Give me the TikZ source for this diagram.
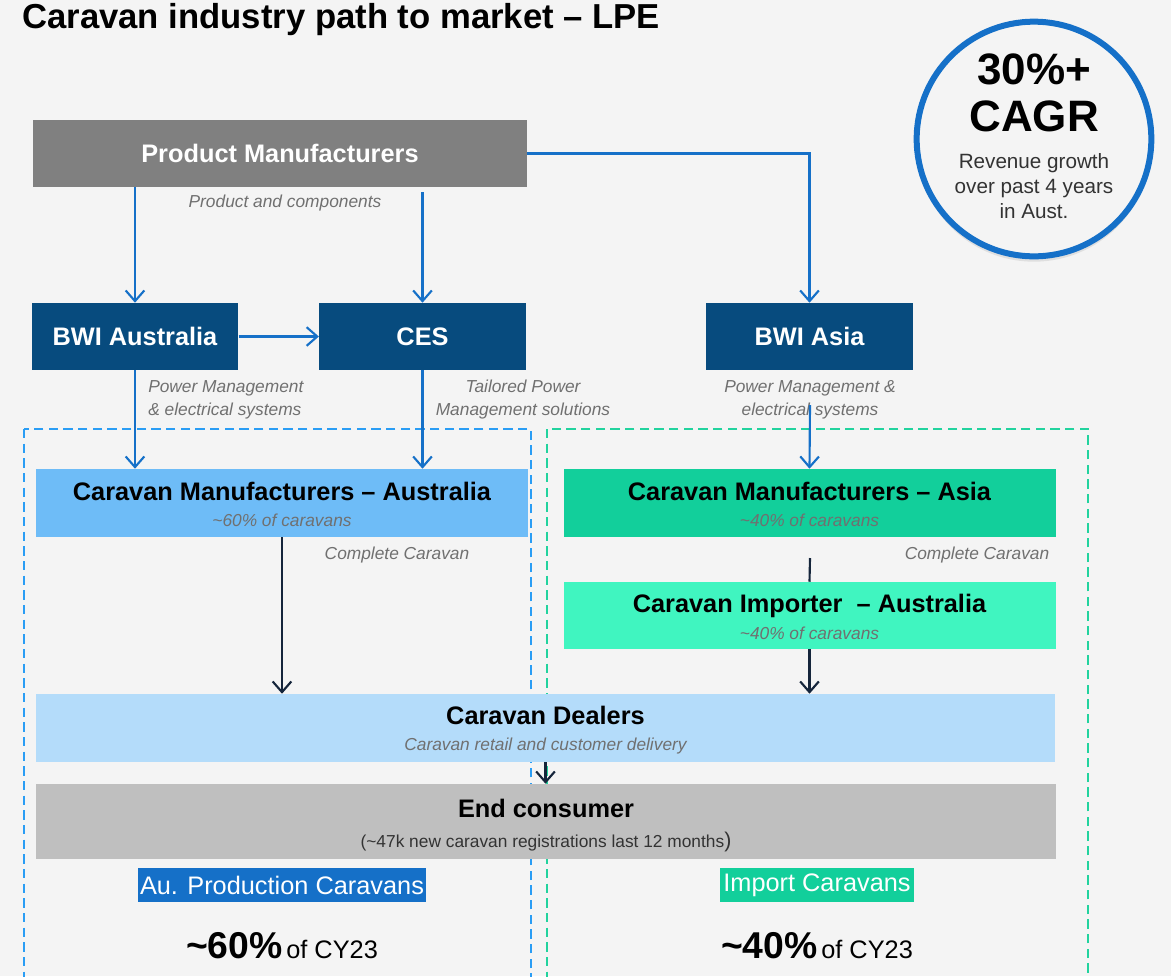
\documentclass[tikz,border=0pt]{standalone}
\usepackage{fontspec}
\setmainfont{Liberation Sans}
\usetikzlibrary{arrows.meta,shadows}

\definecolor{bggrey}{HTML}{F4F4F4}
\definecolor{pmgrey}{HTML}{808080}
\definecolor{navyblue}{HTML}{074B7E}
\definecolor{linkblue}{HTML}{1570C8}
\definecolor{darkline}{HTML}{15253B}
\definecolor{ausblue}{HTML}{6EBCF7}
\definecolor{asiagreen}{HTML}{12CF9B}
\definecolor{mint}{HTML}{40F5C0}
\definecolor{dealerblue}{HTML}{B4DCFA}
\definecolor{consumergrey}{HTML}{BFBFBF}
\definecolor{dashblue}{HTML}{2A9DF4}
\definecolor{dashgreen}{HTML}{22D39E}
\definecolor{lblgrey}{HTML}{707070}
\definecolor{txtgrey}{HTML}{333333}

\newcommand{\boxsub}[1]{{\mdseries\itshape\fontsize{13}{16}\selectfont\color{lblgrey}#1}}

\begin{document}
\begin{tikzpicture}[x=0.75pt, y=-0.75pt,
    >={Straight Barb[length=8pt,width=14pt]},
    box/.style={rectangle, inner sep=0pt, align=center, font=\bfseries\fontsize{19}{20}\selectfont},
    navybox/.style={box, fill=navyblue, text=white, minimum width=155pt, minimum height=50.25pt},
    widebox/.style={box, minimum width=369pt, minimum height=51pt},
    lbl/.style={font=\itshape\fontsize{13}{17.25}\selectfont, text=lblgrey, align=center, inner sep=0pt},
    bluearrow/.style={->, draw=linkblue, line width=1.6pt},
    darkarrow/.style={->, draw=darkline, line width=1.6pt},
    region/.style={line width=1.5pt, dash pattern=on 7pt off 4pt},
    tag/.style={inner sep=0pt, minimum height=25.5pt, text=white, font=\fontsize{19}{21}\selectfont}]

    % Page
    \useasboundingbox (0,0) rectangle (1171,976);
    \fill[bggrey] (0,0) rectangle (1171,976);
    \node[anchor=base west, inner sep=0pt, font=\bfseries\fontsize{26}{30}\selectfont] (title) at (22,28) {Caravan industry path to market -- LPE};

    % Dashed regions
    \draw[region, dashblue] (24,429) rectangle (531,995);
    \draw[region, dashgreen] (547,429) rectangle (1088,995);

    % CAGR badge
    \node[circle, draw=linkblue, line width=4.5pt, fill=bggrey, minimum size=176pt, inner sep=0pt,
          drop shadow={opacity=0.18, shadow xshift=0pt, shadow yshift=-4pt}] (cagr) at (1034,139) {};
    \node[align=center, font=\bfseries\fontsize{33}{35}\selectfont] (cagrval) at (1034,93) {30\%+\\CAGR};
    \node[align=center, text=txtgrey, font=\fontsize{15.5}{18.75}\selectfont] (cagrtxt) at (1034,186) {Revenue growth\\over past 4 years\\in Aust.};

    % Suppliers
    \node[box, fill=pmgrey, text=white, minimum width=370.5pt, minimum height=50.25pt] (pm) at (280,153.5) {Product Manufacturers};
    \node[navybox] (bwiaus) at (135,336.5) {BWI Australia};
    \node[navybox] (ces) at (422.5,336.5) {CES};
    \node[navybox] (bwiasia) at (809.5,336.5) {BWI Asia};

    % Caravan makers
    \node[widebox, fill=ausblue] (cmaus) at (282,503) {\rule{0pt}{16pt}Caravan Manufacturers -- Australia\\\boxsub{\textasciitilde60\% of caravans}};
    \node[widebox, fill=asiagreen] (cmasia) at (809.5,503) {\rule{0pt}{16pt}Caravan Manufacturers -- Asia\\\boxsub{\textasciitilde40\% of caravans}};
    \node[widebox, fill=mint, minimum height=50.25pt] (importer) at (809.5,615.5) {\rule{0pt}{16pt}Caravan Importer\ \ -- Australia\\\boxsub{\textasciitilde40\% of caravans}};

    % Retail and consumer
    \node[box, fill=dealerblue, minimum width=764.25pt, minimum height=51pt] (dealers) at (545.5,728) {\rule{0pt}{17pt}Caravan Dealers\\\boxsub{Caravan retail and customer delivery}};
    \node[box, fill=consumergrey, minimum width=765pt, minimum height=56.25pt] (consumer) at (546,821.5) {\rule{0pt}{20pt}End consumer\\[3pt]{\mdseries\fontsize{13}{16}\selectfont\color{txtgrey}(\textasciitilde47k new caravan registrations last 12 months{\fontsize{16}{16}\selectfont)}}};

    % Flow labels
    \node[lbl] (prodlbl) at (285,203) {Product and components};
    \node[lbl, align=left, anchor=west] (bwiauslbl) at (148,400) {Power Management\\\& electrical systems};
    \node[lbl] (ceslbl) at (523,400) {Tailored Power\\Management solutions};
    \node[lbl] (asialbl) at (810,400) {Power Management \&\\electrical systems};
    \node[lbl] (ccaus) at (397,555) {Complete Caravan};
    \node[lbl] (ccasia) at (977,555) {Complete Caravan};
    \coordinate (asiastart) at (810,405);
    \coordinate (asiagap) at (810,558);

    % Supply arrows
    \draw[bluearrow] (bwiaus.north |- pm.south) -- (bwiaus.north);
    \draw[bluearrow, shorten <=3.75pt] (ces.north |- pm.south) -- (ces.north);
    \draw[bluearrow] (pm.east) -| (bwiasia.north);
    \draw[bluearrow] (bwiaus) -- (ces);
    \draw[bluearrow] (bwiaus.south) -- (bwiaus.south |- cmaus.north);
    \draw[bluearrow] (ces.south) -- (ces.south |- cmaus.north);
    \draw[bluearrow] (asiastart) -- (cmasia.north);

    % Caravan arrows
    \draw[darkarrow] (cmaus.south) -- (cmaus.south |- dealers.north);
    \draw[darkline, line width=1.6pt] (asiagap) -- (importer.north);
    \draw[darkarrow] (importer.south) -- (importer.south |- dealers.north);
    \draw[darkarrow] (dealers.south) -- (dealers.south |- consumer.north);

    % Market split
    \node[tag, fill=linkblue, minimum width=216pt] (austag) at (282,885) {Au. Production Caravans};
    \node[tag, fill=asiagreen, minimum width=145.5pt] (imptag) at (817,885) {Import Caravans};
    \node[anchor=base, inner sep=0pt] (ausshare) at (282,958) {{\bfseries\fontsize{28}{30}\selectfont\textasciitilde60\%}\ {\fontsize{19}{21}\selectfont of CY23}};
    \node[anchor=base, inner sep=0pt] (impshare) at (817,958) {{\bfseries\fontsize{28}{30}\selectfont\textasciitilde40\%}\ {\fontsize{19}{21}\selectfont of CY23}};
\end{tikzpicture}
\end{document}
